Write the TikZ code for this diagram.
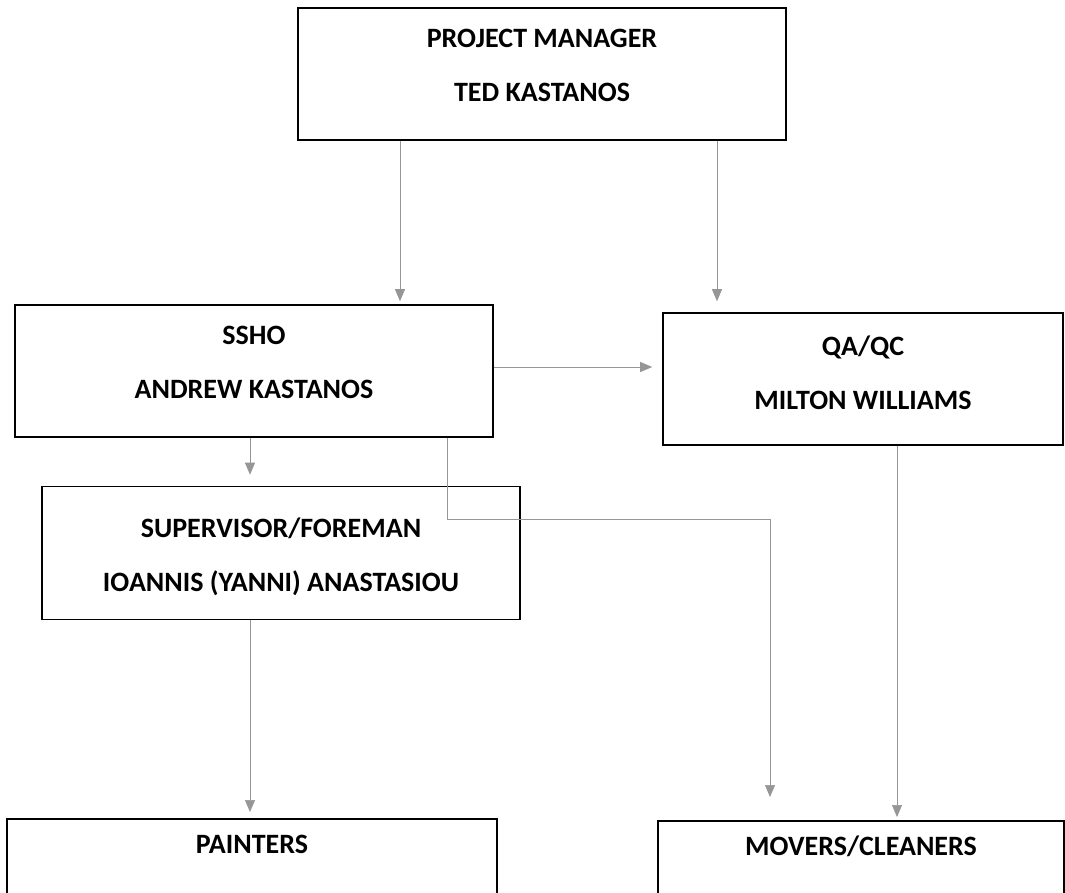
\documentclass[tikz,border=0pt]{standalone}
\usepackage{fontspec}
\setmainfont{Carlito}
\usetikzlibrary{arrows.meta}
\definecolor{linkgray}{RGB}{150,150,150}
\newcommand{\lowpad}[1]{\rule[-#1]{0pt}{#1}}
\tikzset{
    box/.style={draw, line width=1.6pt, inner sep=0pt, align=center,
        font=\bfseries\fontsize{28}{54}\selectfont},
    openbox/.style={box, anchor=north, text height=35pt, text depth=110pt},
    link/.style={draw=linkgray, line width=0.7pt,
        -{Triangle[width=10pt,length=12pt]}}
}
\begin{document}
\begin{tikzpicture}[x=1pt,y=1pt]
    \clip (0,0) rectangle (1065,-892);
    \node [box, minimum width=488, minimum height=132] (pm) at (542,-74) {PROJECT MANAGER\\TED KASTANOS\lowpad{18pt}};
    \node [box, minimum width=478, minimum height=132] (ssho) at (254,-371) {SSHO\\ANDREW KASTANOS\lowpad{18pt}};
    \node [box, minimum width=400, minimum height=132] (qa) at (863,-379) {QA/QC\\MILTON WILLIAMS\lowpad{12pt}};
    \node [box, minimum width=478, minimum height=133] (sup) at (281,-553) {\rule{0pt}{27pt}SUPERVISOR/FOREMAN\\IOANNIS (YANNI) ANASTASIOU};
    \node [openbox, minimum width=490] (paint) at (252,-818) {PAINTERS};
    \node [openbox, minimum width=406] (movers) at (861,-820) {MOVERS/CLEANERS};
    \draw [link, shorten >=3pt] ([xshift=-142pt]pm.south) -- ([xshift=-142pt]pm.south |- ssho.north);
    \draw [link, shorten >=11pt] ([xshift=175pt]pm.south) -- ([xshift=175pt]pm.south |- qa.north);
    \draw [link, shorten >=10pt] ([yshift=4pt]ssho.east) -- ([yshift=4pt]ssho.east -| qa.west);
    \draw [link, shorten >=11pt] ([xshift=-4pt]ssho.south) -- ([xshift=-4pt]ssho.south |- sup.north);
    \draw [link, shorten >=23pt] ([xshift=193pt]ssho.south) -- ++(0,-82) -| ([xshift=-91pt]movers.north);
    \draw [link, shorten >=3pt] ([xshift=34pt]qa.south) -- ([xshift=34pt]qa.south |- movers.north);
    \draw [link, shorten >=6pt] ([xshift=-31pt]sup.south) -- ([xshift=-31pt]sup.south |- paint.north);
\end{tikzpicture}
\end{document}
